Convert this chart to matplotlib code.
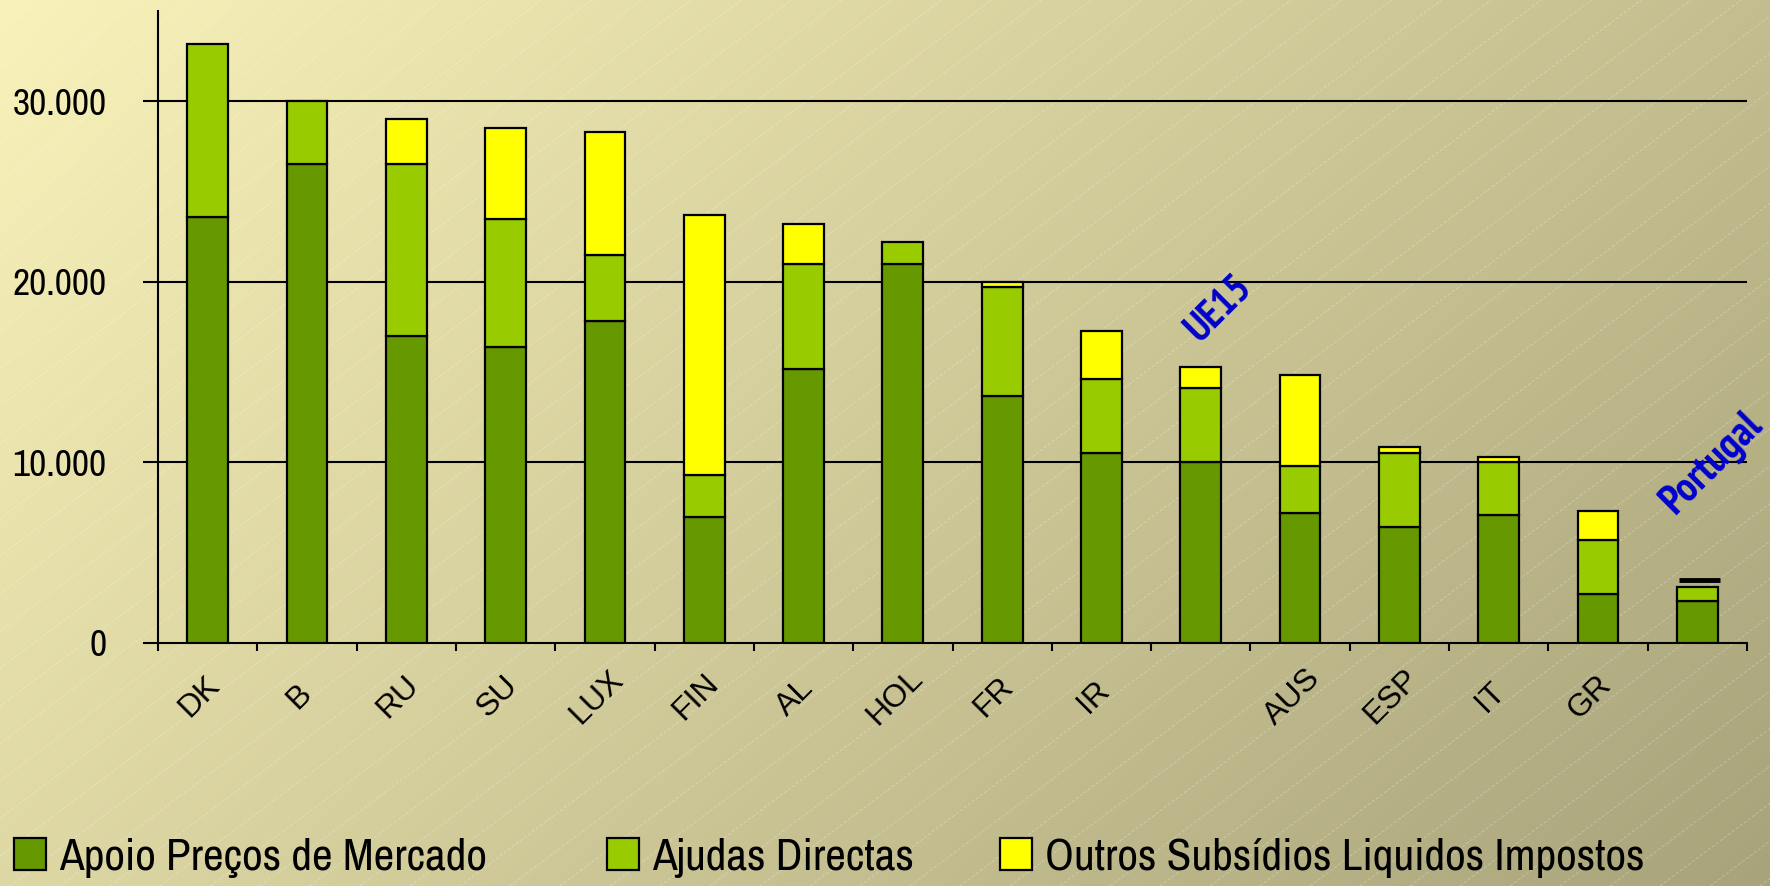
import numpy as np
import matplotlib
matplotlib.use("Agg")
import matplotlib.pyplot as plt
from matplotlib.patches import Patch
from matplotlib.colors import to_rgb

# ---------------- data ----------------
categories = ['DK', 'B', 'RU', 'SU', 'LUX', 'FIN', 'AL', 'HOL', 'FR', 'IR',
              'UE15', 'AUS', 'ESP', 'IT', 'GR', 'Portugal']
tick_labels = ['DK', 'B', 'RU', 'SU', 'LUX', 'FIN', 'AL', 'HOL', 'FR', 'IR',
               '', 'AUS', 'ESP', 'IT', 'GR', '']
apoio_precos = [23600, 26500, 17000, 16400, 17850, 7000, 15200, 21000, 13700, 10500,
                10000, 7200, 6400, 7100, 2700, 2300]
ajudas_directas = [9600, 3500, 9500, 7100, 3650, 2300, 5800, 1200, 6000, 4100,
                   4100, 2600, 4100, 2900, 3000, 800]
outros_subsidios = [0, 0, 2500, 5000, 6800, 14400, 2200, 0, 300, 2700,
                    1200, 5060, 360, 300, 1600, 0]
portugal_marker = 3500  # short black line above the Portugal bar
series_names = ['Apoio Preços de Mercado', 'Ajudas Directas',
                'Outros Subsídios Liquidos Impostos']
y_ticks = [0, 10000, 20000, 30000]
y_tick_labels = ['0', '10.000', '20.000', '30.000']
highlight = {'UE15': 'UE15', 'Portugal': 'Portugal'}

colors = ['#669900', '#99CC00', '#FFFF00']
narrow = ['Archivo Narrow', 'DejaVu Sans']
regular = ['Liberation Sans', 'DejaVu Sans']
narrow_bold = ['PT Sans Narrow', 'DejaVu Sans']

W, H, DPI = 1770, 886, 100
fig = plt.figure(figsize=(W / DPI, H / DPI), dpi=DPI)

# ---------------- background gradient ----------------
bg = fig.add_axes([0, 0, 1, 1], zorder=-10)
c1 = np.array(to_rgb('#F9F2BA'))
c2 = np.array(to_rgb('#A8A37A'))
xx, yy = np.meshgrid(np.linspace(0, 1, 400), np.linspace(0, 1, 200))
t = (xx * W + yy * H) / (W + H)
img = c1[None, None, :] * (1 - t[..., None]) + c2[None, None, :] * t[..., None]
bg.imshow(img, extent=[0, W, H, 0], aspect='auto', interpolation='bilinear')
slope = 0.75
for x0 in np.arange(-2 * W, W + 200, 50):
    bg.plot([x0, x0 + W * 2], [H, H - slope * W * 2], color='white', lw=0.6,
            alpha=0.3, ls=(0, (4, 2)))
bg.set_xlim(0, W)
bg.set_ylim(H, 0)
bg.axis('off')

# ---------------- main axes ----------------
ax = fig.add_axes([158 / W, 1 - 643 / H, (1747 - 158) / W, (643 - 11) / H])
ax.patch.set_alpha(0)
x = np.arange(len(categories))
bw = 0.41

b1 = np.array(apoio_precos)
b2 = b1 + np.array(ajudas_directas)
ax.bar(x, apoio_precos, bw, color=colors[0], edgecolor='black', lw=1.6, zorder=3)
ax.bar(x, ajudas_directas, bw, bottom=b1, color=colors[1], edgecolor='black', lw=1.6, zorder=3)
mask = np.array(outros_subsidios) > 0
ax.bar(x[mask], np.array(outros_subsidios)[mask], bw, bottom=b2[mask], color=colors[2],
       edgecolor='black', lw=1.6, zorder=3)
ip = categories.index('Portugal')
ax.hlines(portugal_marker, ip - bw / 2 + 0.02, ip + bw / 2 + 0.02, color='black', lw=3.5, zorder=4)

ax.set_xlim(-0.5, len(categories) - 0.5)
ax.set_ylim(0, 35000)

for yv in y_ticks[1:]:
    ax.axhline(yv, color='black', lw=1.5, zorder=1)

for s in ['top', 'right']:
    ax.spines[s].set_visible(False)
ax.spines['left'].set_linewidth(1.5)
ax.spines['bottom'].set_linewidth(1.5)

ax.set_yticks(y_ticks)
ax.set_yticklabels(y_tick_labels, family=narrow, fontsize=27)
ax.tick_params(axis='y', length=11, width=1.5, pad=26)

# ticks between categories
ax.set_xticks(np.arange(len(categories) + 1) - 0.5)
ax.set_xticklabels([])
ax.tick_params(axis='x', length=6, width=1.5)

trans = ax.get_xaxis_transform()
for i, lab in enumerate(tick_labels):
    if lab:
        ax.text(i - 0.08, -0.0854, lab, rotation=45, ha='center', va='center',
                family=regular, fontsize=23, transform=trans)

# highlighted annotations
ax.text(categories.index('UE15') + 0.18, 18560, highlight['UE15'], rotation=45,
        ha='center', va='center', color='#0000CC', family=narrow_bold,
        fontweight='bold', fontsize=29)
ax.text(categories.index('Portugal') + 0.15, 9950, highlight['Portugal'], rotation=45,
        ha='center', va='center', color='#0000CC', family=narrow_bold,
        fontweight='bold', fontsize=30, clip_on=False)

# ---------------- legend (one entry per series, at fixed positions) ----------------
leg_x = [14 / W, 607 / W, 1000 / W]
for name, c, lx in zip(series_names, colors, leg_x):
    h = Patch(facecolor=c, edgecolor='black', lw=1.6)
    lg = fig.legend([h], [name], loc='center left', bbox_to_anchor=(lx, 0.032),
                    frameon=False, prop={'family': narrow, 'size': 32.5},
                    handlelength=0.7, handleheight=0.7, handletextpad=0.3,
                    borderaxespad=0, borderpad=0)

fig.savefig('out.png', dpi=DPI)
